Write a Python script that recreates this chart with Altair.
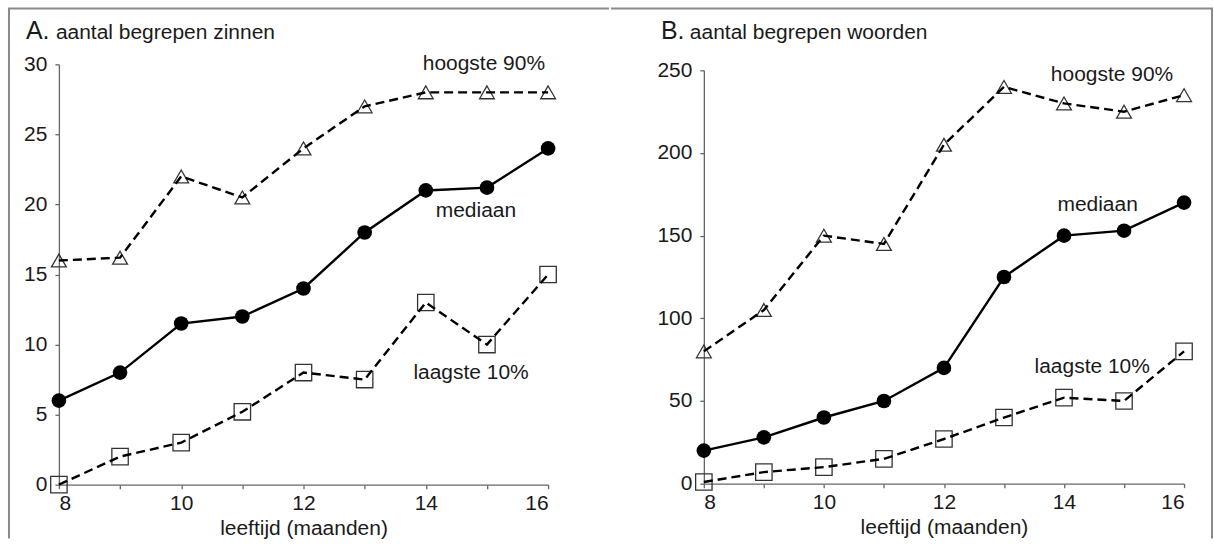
import altair as alt
import pandas as pd

months = [8, 9, 10, 11, 12, 13, 14, 15, 16]

a_hoogste = [16, 16.2, 22, 20.5, 24, 27, 28, 28, 28]
a_mediaan = [6, 8, 11.5, 12, 14, 18, 21, 21.2, 24]
a_laagste = [0, 2, 3, 5.2, 8, 7.5, 13, 10, 15]

b_hoogste = [80, 105, 150, 145, 205, 240, 230, 225, 235]
b_mediaan = [20, 28, 40, 50, 70, 125, 150, 153, 170]
b_laagste = [1, 7, 10, 15, 27, 40, 52, 50, 80]

series_names = ["hoogste 90%", "mediaan", "laagste 10%"]
a_label_x = [14.95, 14.82, 14.74]
a_label_y = [30, 19.5, 8.0]
b_label_x = [14.8, 14.56, 14.47]
b_label_y = [247, 168.5, 70.7]

FONT = "Liberation Sans"
TEXT = "#1a1a1a"
AXIS = "#666666"
FRAME = "#8a8a8a"


def panel(hoog, med, laag, ymax, ystep, w, h, yrange, letter, title, lx, ly,
          letter_x, text_x, title_y, top_y, left_x, right_x, bottom_y, side):
    df = pd.DataFrame({
        "maand": months * 3,
        "waarde": hoog + med + laag,
        "reeks": [n for n in series_names for _ in months],
    })
    x = alt.X("maand:Q",
              scale=alt.Scale(domain=[8, 16], nice=False, zero=False),
              axis=alt.Axis(values=months, format="d",
                            labelExpr="datum.value % 2 == 0 ? datum.label : ''",
                            title="leeftijd (maanden)", tickSize=4,
                            labelPadding=4, titlePadding=4))
    y = alt.Y("waarde:Q",
              scale=alt.Scale(domain=[0, ymax], nice=False, range=yrange),
              axis=alt.Axis(values=list(range(0, ymax + 1, ystep)),
                            title=None, tickSize=4, labelPadding=8))
    base = alt.Chart(df)
    hi = base.transform_filter(alt.datum.reeks == "hoogste 90%")
    md = base.transform_filter(alt.datum.reeks == "mediaan")
    lo = base.transform_filter(alt.datum.reeks == "laagste 10%")

    hi_pts = hi.mark_point(shape="triangle-up", filled=False, size=220,
                           color="#333333", strokeWidth=1.3, opacity=1).encode(x=x, y=y)
    hi_line = hi.mark_line(color="black", strokeWidth=2.4,
                           strokeDash=[9, 5]).encode(x=x, y=y)
    lo_pts = lo.mark_point(shape="square", filled=False, size=270,
                           color="#333333", strokeWidth=1.3, opacity=1).encode(x=x, y=y)
    lo_line = lo.mark_line(color="black", strokeWidth=2.4,
                           strokeDash=[9, 5]).encode(x=x, y=y)
    md_line = md.mark_line(color="black", strokeWidth=2.4).encode(x=x, y=y)
    md_pts = md.mark_circle(size=215, color="black", opacity=1).encode(x=x, y=y)

    lab_df = pd.DataFrame({"lx": lx, "ly": ly, "naam": series_names})
    labels = alt.Chart(lab_df).mark_text(
        font=FONT, fontSize=21, color=TEXT, align="center", baseline="middle"
    ).encode(x=alt.X("lx:Q"), y=alt.Y("ly:Q"), text="naam:N")

    one = pd.DataFrame({"d": [0]})
    t1 = alt.Chart(one).mark_text(font=FONT, fontSize=25, color=TEXT,
                                  align="left", baseline="alphabetic").encode(
        x=alt.value(letter_x), y=alt.value(title_y), text=alt.value(letter))
    t2 = alt.Chart(one).mark_text(font=FONT, fontSize=21, color=TEXT,
                                  align="left", baseline="alphabetic").encode(
        x=alt.value(text_x), y=alt.value(title_y), text=alt.value(title))

    top = alt.Chart(one).mark_rule(color=FRAME, strokeWidth=2, strokeCap="square").encode(
        x=alt.value(left_x), x2=alt.value(right_x), y=alt.value(top_y))
    vx = left_x if side == "left" else right_x
    vert = alt.Chart(one).mark_rule(color=FRAME, strokeWidth=2).encode(
        x=alt.value(vx), y=alt.value(top_y), y2=alt.value(bottom_y))

    return alt.layer(hi_pts, lo_pts, hi_line, lo_line, md_line, md_pts,
                     labels, t1, t2, top, vert).properties(width=w, height=h)


pa = panel(a_hoogste, a_mediaan, a_laagste, 30, 5, 490, 415, [415, -6],
           "A.", "aantal begrepen zinnen", a_label_x, a_label_y,
           letter_x=-33, text_x=-3, title_y=-31, top_y=-62,
           left_x=-50, right_x=550, bottom_y=469, side="left")
pb = panel(b_hoogste, b_mediaan, b_laagste, 250, 50, 481, 414, [414, 0],
           "B.", "aantal begrepen woorden", b_label_x, b_label_y,
           letter_x=-43, text_x=-14, title_y=-31, top_y=-62,
           left_x=-92, right_x=509, bottom_y=469, side="right")

chart = alt.hconcat(pa, pb, spacing=0).properties(
    padding={"left": 7, "top": 6, "right": 0, "bottom": 0},
    background="white",
).configure_view(stroke="transparent").configure_axis(
    domainColor=AXIS, tickColor=AXIS, domainWidth=1.3, tickWidth=1.3,
    grid=False, labelFont=FONT, labelFontSize=21, labelColor=TEXT,
    titleFont=FONT, titleFontSize=21, titleColor=TEXT, titleFontWeight="normal",
)

chart.save("out.html", embed_options={"renderer": "svg", "actions": False})
